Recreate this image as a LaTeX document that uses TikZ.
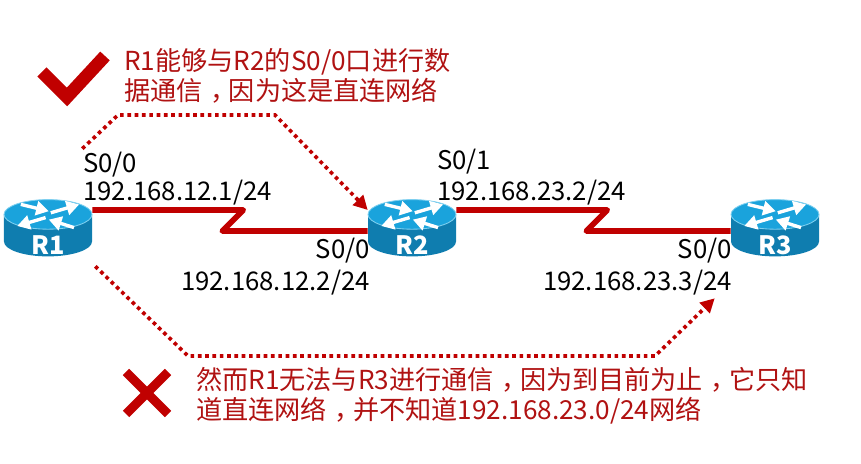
\documentclass[tikz,border=0pt]{standalone}
\usepackage{fontspec}
\usepackage{xcolor}
\setmainfont{Noto Sans CJK SC}
\usetikzlibrary{arrows.meta}
\definecolor{linkred}{HTML}{C00000}
\definecolor{notered}{HTML}{B01212}
\definecolor{routertop}{HTML}{1AA3DC}
\definecolor{routerside}{HTML}{0F7DAF}
\definecolor{routerrim}{HTML}{7FD0F0}
\newcommand{\midcomma}{\kern.3em，\kern-.3em}
\tikzset{
  routerbox/.style={minimum width=2.2cm,minimum height=1.5cm,inner sep=0pt},
  routername/.style={white,font=\fontsize{18}{20}\bfseries\selectfont,inner sep=0pt},
  iface/.style={black,font=\fontsize{18.3}{22}\selectfont,inner sep=0pt},
  note/.style={notered,font=\fontsize{18.6}{21.5}\selectfont,inner sep=0pt,align=left,anchor=west},
  serial/.style={linkred,line width=4pt,line join=round},
  flow/.style={linkred,line width=2.6pt,dash pattern=on 2.6pt off 2.6pt,-{Triangle[length=10pt,width=10pt]}},
  routerarrow/.style={white,line width=2.4pt,-{Triangle[length=9pt,width=10pt]}},
  router/.pic={
    \fill[routerside] (-1.1,0.34) -- (-1.1,-0.34) arc [start angle=180,end angle=360,x radius=1.1,y radius=0.37] -- (1.1,0.34) -- cycle;
    \fill[routertop,draw=routerrim,line width=0.6pt] (0,0.34) ellipse [x radius=1.1,y radius=0.37];
    \draw[routerarrow] (-0.68,0.59) -- (0.02,0.42);
    \draw[routerarrow] (0.07,0.38) -- (0.78,0.59);
    \draw[routerarrow] (-0.06,0.26) -- (-0.77,0.05);
    \draw[routerarrow] (0.65,0.01) -- (0.02,0.21);
  }
}
\begin{document}
\begin{tikzpicture}
\useasboundingbox (0,0) rectangle (21.525,11.6);

\pic at (1.2,5.9) {router};
\pic at (10.3,5.9) {router};
\pic at (19.375,5.9) {router};
\node[routerbox] (R1) at (1.2,5.9) {};
\node[routerbox] (R2) at (10.3,5.9) {};
\node[routerbox] (R3) at (19.375,5.9) {};
\node[routername] (R1name) at (1.2,5.475) {R1};
\node[routername] (R2name) at (10.3,5.475) {R2};
\node[routername] (R3name) at (19.375,5.475) {R3};

% serial links
\draw[serial] ([yshift=0.45cm]R1.east) -- ++(3.775,0) -- ++(-0.525,-0.525) -- ([yshift=-0.075cm]R2.west);
\draw[serial] ([yshift=0.45cm]R2.east) -- ++(3.775,0) -- ++(-0.525,-0.525) -- ([yshift=-0.075cm]R3.west);

% interface labels
\node[iface,anchor=west] (R1s) at (2.075,7.475) {S0/0};
\node[iface,anchor=west] (R1ip) at (2.075,6.775) {192.168.12.1/24};
\node[iface,anchor=east] (R2s) at (9.25,5.325) {S0/0};
\node[iface,anchor=east] (R2ip) at (9.25,4.525) {192.168.12.2/24};
\node[iface,anchor=west] (R2t) at (10.925,7.55) {S0/1};
\node[iface,anchor=west] (R2tip) at (10.925,6.775) {192.168.23.2/24};
\node[iface,anchor=east] (R3s) at (18.3,5.325) {S0/0};
\node[iface,anchor=east] (R3ip) at (18.3,4.525) {192.168.23.3/24};

% dotted paths
\coordinate (upstart) at ([xshift=-0.25cm,yshift=1.225cm]R1.north east);
\coordinate (lowstart) at ([xshift=0.075cm,yshift=-0.2cm]R1.south east);
\draw[flow] (upstart) -- (2.95,8.725) -- (6.875,8.725) -- ([yshift=0.45cm]R2.west);
\draw[flow] (lowstart) -- (4.7,2.7) -- (16.375,2.7) -- ([xshift=-0.4cm,yshift=-1cm]R3.south west);

% notes
\node[note] (oknote) at (3.1,9.71) {R1能够与R2的S0/0口进行数\\据通信\midcomma 因为这是直连网络};
\node[note] (nonote) at (4.9,1.7125) {然而R1无法与R3进行通信\midcomma 因为到目前为止\midcomma 它只知\\道直连网络\midcomma 并不知道192.168.23.0/24网络};

% marks
\draw[linkred,line width=9.2pt,miter limit=10] (1.05,9.8) -- (1.675,9.175) -- (2.625,10.2);
\draw[linkred,line width=6.4pt] (3.15,2.3) -- (4.2,1.25);
\draw[linkred,line width=6.4pt] (3.15,1.25) -- (4.2,2.3);
\end{tikzpicture}
\end{document}
